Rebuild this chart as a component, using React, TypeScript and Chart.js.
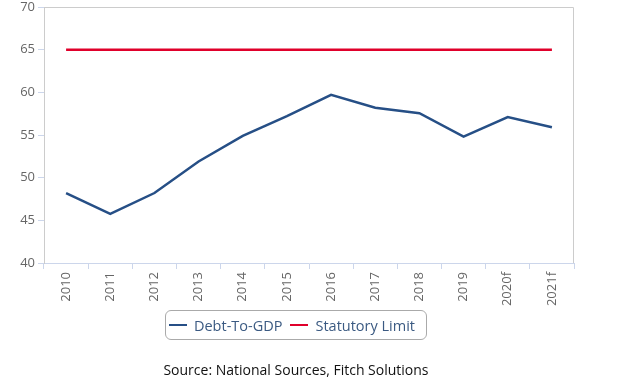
import React, { useEffect, useRef } from "react";
import { Chart, registerables } from "chart.js";

Chart.register(...registerables);

const categories = ["2010", "2011", "2012", "2013", "2014", "2015", "2016", "2017", "2018", "2019", "2020f", "2021f"];
const debtToGdp = [48.2, 45.75, 48.2, 51.9, 54.9, 57.2, 59.7, 58.2, 57.55, 54.8, 57.1, 55.9];
const statutoryLimit = [65, 65, 65, 65, 65, 65, 65, 65, 65, 65, 65, 65];
const yMin = 40;
const yMax = 70;
const yStep = 5;

const BLUE = "#264f86";
const RED = "#e0002b";
const FONT = "'Open Sans', 'DejaVu Sans', sans-serif";

const framePlugin = {
  id: "frame",
  beforeDatasetsDraw(chart: any) {
    const { ctx, chartArea } = chart;
    ctx.save();
    ctx.strokeStyle = "#cccccc";
    ctx.lineWidth = 1;
    ctx.beginPath();
    ctx.moveTo(chartArea.left + 0.5, chartArea.bottom);
    ctx.lineTo(chartArea.left + 0.5, chartArea.top + 0.5);
    ctx.lineTo(chartArea.right - 0.5, chartArea.top + 0.5);
    ctx.lineTo(chartArea.right - 0.5, chartArea.bottom);
    ctx.stroke();
    ctx.restore();
  },
};

export default function App() {
  const ref = useRef<HTMLCanvasElement>(null);

  useEffect(() => {
    if (!ref.current) return;
    const chart = new Chart(ref.current, {
      type: "line",
      data: {
        labels: categories,
        datasets: [
          {
            label: "Debt-To-GDP",
            data: debtToGdp,
            borderColor: BLUE,
            backgroundColor: BLUE,
            borderWidth: 2.5,
            pointRadius: 0,
            tension: 0,
          },
          {
            label: "Statutory Limit",
            data: statutoryLimit,
            borderColor: RED,
            backgroundColor: RED,
            borderWidth: 2.5,
            pointRadius: 0,
            tension: 0,
          },
        ],
      },
      options: {
        animation: false,
        responsive: false,
        maintainAspectRatio: false,
        layout: { padding: { left: 0, right: 53, top: 7, bottom: 0 } },
        plugins: {
          legend: { display: false },
          tooltip: { enabled: false },
        },
        scales: {
          x: {
            offset: true,
            grid: {
              offset: true,
              drawOnChartArea: false,
              drawTicks: true,
              tickLength: 6,
              color: "#ccd6eb",
            },
            border: { display: true, color: "#ccd6eb", width: 1 },
            ticks: {
              autoSkip: false,
              maxRotation: 90,
              minRotation: 90,
              color: "#666666",
              padding: 3,
              font: { family: FONT, size: 13 },
            },
            afterFit: (s: any) => {
              s.height = 123;
            },
          },
          y: {
            min: yMin,
            max: yMax,
            ticks: {
              stepSize: yStep,
              color: "#666666",
              padding: 3,
              font: { family: FONT, size: 13 },
            },
            grid: {
              drawOnChartArea: false,
              drawTicks: true,
              tickLength: 6,
              color: "#ccd6eb",
            },
            border: { display: true, color: "#cccccc", width: 1 },
            afterFit: (s: any) => {
              s.width = 44;
              s.paddingTop = 0;
              s.paddingBottom = 0;
            },
          },
        },
      },
      plugins: [framePlugin],
    });
    return () => chart.destroy();
  }, []);

  const legendItem = (color: string, text: string) => (
    <span style={{ display: "inline-flex", alignItems: "center", marginRight: 8 }}>
      <span style={{ display: "inline-block", width: 18, height: 2.5, background: color, marginRight: 7 }} />
      <span>{text}</span>
    </span>
  );

  return (
    <div style={{ position: "absolute", left: 0, top: 0, width: 627, height: 386, background: "#fff", fontFamily: FONT }}>
      <canvas ref={ref} width={627} height={386} style={{ position: "absolute", left: 0, top: 0, width: 627, height: 386 }} />
      <div
        style={{
          position: "absolute",
          left: 165,
          top: 310,
          width: 262,
          height: 30,
          boxSizing: "border-box",
          border: "1px solid #aaaaaa",
          borderRadius: 6,
          display: "flex",
          alignItems: "center",
          justifyContent: "center",
          fontSize: 14.5,
          color: "#3b5a82",
          whiteSpace: "nowrap",
        }}
      >
        {legendItem(BLUE, "Debt-To-GDP")}
        {legendItem(RED, "Statutory Limit")}
      </div>
      <div
        style={{
          position: "absolute",
          left: 0,
          width: 592,
          top: 360,
          textAlign: "center",
          fontSize: 14,
          color: "#111",
          whiteSpace: "nowrap",
        }}
      >
        Source: National Sources, Fitch Solutions
      </div>
    </div>
  );
}
